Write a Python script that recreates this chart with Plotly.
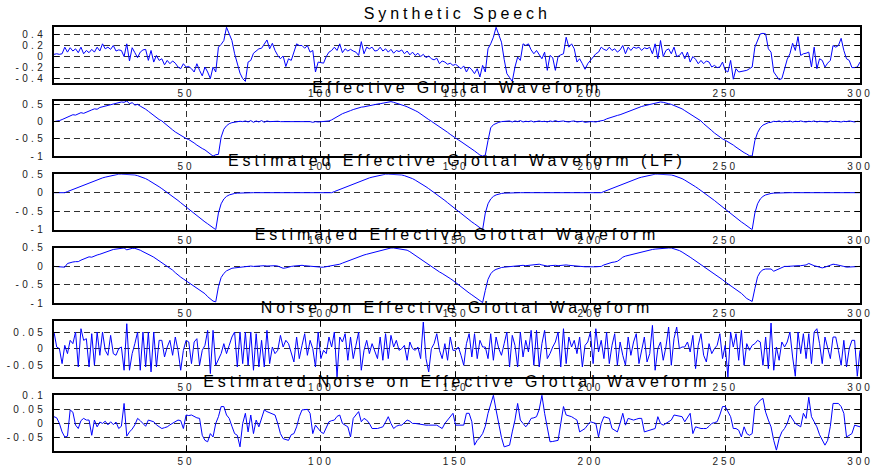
import plotly.graph_objects as go

# ---------------- data ----------------
sample_index = list(range(1, 301))

speech = [
    0.04, 0.05, 0.04, 0.05, 0.17, 0.08, 0.16, 0.10, 0.14, 0.07,
    0.17, 0.05, 0.11, 0.07, 0.13, 0.08, 0.17, 0.10, 0.23, 0.14,
    0.17, 0.13, 0.20, 0.10, 0.12, 0.11, 0.00, 0.23, -0.08, 0.16,
    0.07, -0.02, 0.08, 0.12, 0.13, -0.07, 0.11, -0.10, 0.02, -0.07,
    -0.04, -0.15, -0.07, -0.13, -0.08, -0.12, -0.19, -0.22, -0.13, -0.19,
    -0.18, -0.22, -0.28, -0.13, -0.25, -0.35, -0.19, -0.28, -0.40, -0.19,
    -0.28, 0.17, 0.22, 0.29, 0.53, 0.40, 0.29, 0.05, -0.15, -0.30,
    -0.40, -0.45, -0.10, -0.07, 0.06, 0.10, 0.14, 0.15, 0.23, 0.30,
    0.14, 0.24, 0.11, 0.02, -0.04, 0.01, -0.18, -0.04, -0.07, 0.08,
    0.23, 0.20, 0.20, 0.15, 0.20, 0.08, 0.11, -0.28, -0.10, -0.11,
    -0.12, 0.00, 0.08, 0.11, 0.17, 0.11, 0.23, 0.07, 0.14, 0.10,
    0.13, 0.10, 0.08, 0.02, 0.27, 0.05, 0.17, 0.14, 0.17, 0.10,
    0.11, 0.17, 0.10, 0.14, 0.08, 0.13, 0.06, 0.11, 0.09, 0.12,
    0.05, 0.10, 0.03, 0.08, 0.02, 0.06, 0.00, 0.04, -0.02, 0.01,
    -0.04, -0.06, -0.03, -0.13, -0.08, -0.10, -0.14, -0.12, -0.16, -0.14,
    -0.18, -0.22, -0.17, -0.28, -0.19, -0.24, -0.31, -0.22, -0.37, -0.16,
    -0.28, 0.14, 0.23, 0.35, 0.53, 0.41, 0.26, -0.05, -0.31, -0.38,
    -0.45, -0.19, -0.01, -0.07, 0.23, 0.20, 0.23, 0.12, 0.05, 0.11,
    0.04, -0.04, 0.08, -0.25, 0.02, -0.02, -0.25, 0.00, 0.03, 0.05,
    0.35, 0.17, 0.23, 0.14, -0.10, -0.04, -0.13, -0.23, -0.13, -0.07,
    -0.02, 0.05, 0.08, 0.17, 0.13, 0.11, 0.17, 0.11, 0.14, 0.08,
    0.12, 0.20, 0.05, 0.17, 0.11, 0.17, 0.15, 0.17, 0.11, 0.16,
    0.14, 0.17, 0.05, 0.23, -0.04, 0.29, 0.00, 0.11, 0.14, 0.05,
    0.17, 0.00, 0.02, 0.08, -0.04, 0.08, -0.10, 0.00, -0.05, -0.13,
    -0.07, -0.13, -0.08, -0.10, -0.19, -0.16, -0.20, -0.19, -0.10, -0.25,
    -0.28, -0.07, -0.41, -0.22, -0.28, -0.27, -0.26, -0.25, -0.22, -0.19,
    0.17, 0.30, 0.41, 0.42, 0.41, 0.14, 0.08, -0.28, -0.35, -0.42,
    -0.40, -0.20, -0.05, 0.05, 0.24, 0.11, 0.36, 0.02, 0.05, 0.06,
    0.08, -0.19, 0.17, -0.22, -0.04, -0.07, -0.19, -0.12, -0.07, 0.20,
    0.17, 0.20, 0.33, 0.11, -0.04, -0.07, -0.20, -0.20, -0.19, -0.10,
]

eff_glottal = [
    0.00, 0.01, 0.03, 0.06, 0.10, 0.14, 0.17, 0.20, 0.19, 0.23,
    0.26, 0.24, 0.28, 0.32, 0.34, 0.37, 0.36, 0.41, 0.43, 0.45,
    0.48, 0.50, 0.52, 0.53, 0.55, 0.57, 0.56, 0.60, 0.52, 0.55,
    0.48, 0.50, 0.45, 0.41, 0.36, 0.30, 0.24, 0.17, 0.12, 0.06,
    0.02, -0.05, -0.12, -0.18, -0.24, -0.30, -0.35, -0.40, -0.44, -0.49,
    -0.52, -0.56, -0.62, -0.68, -0.74, -0.78, -0.82, -0.88, -0.94, -1.00,
    -0.96, -0.95, -0.45, -0.22, -0.12, -0.06, -0.03, -0.01, 0.00, 0.01,
    0.00, 0.02, -0.01, 0.03, -0.02, 0.02, -0.01, 0.03, -0.02, 0.02,
    0.00, 0.01, 0.00, 0.01, 0.00, 0.00, 0.01, -0.01, 0.00, 0.00,
    0.01, 0.00, 0.00, 0.00, -0.01, 0.00, -0.02, 0.00, -0.01, 0.00,
    -0.01, 0.00, 0.02, 0.05, 0.10, 0.15, 0.20, 0.23, 0.26, 0.30,
    0.32, 0.35, 0.38, 0.40, 0.42, 0.43, 0.45, 0.47, 0.48, 0.50,
    0.51, 0.52, 0.54, 0.55, 0.57, 0.58, 0.56, 0.54, 0.50, 0.48,
    0.46, 0.43, 0.40, 0.36, 0.32, 0.28, 0.22, 0.16, 0.10, 0.06,
    0.01, -0.04, -0.10, -0.15, -0.21, -0.26, -0.31, -0.37, -0.43, -0.48,
    -0.53, -0.58, -0.63, -0.68, -0.74, -0.80, -0.85, -0.91, -0.97, -1.00,
    -0.97, -0.55, -0.18, -0.09, -0.05, -0.02, 0.00, 0.01, 0.00, 0.02,
    -0.01, 0.02, 0.00, 0.03, -0.01, 0.01, 0.00, 0.02, -0.01, 0.00,
    0.02, 0.00, 0.01, -0.01, 0.02, 0.00, 0.03, 0.00, 0.01, 0.02,
    0.00, -0.01, 0.01, 0.02, -0.01, 0.00, 0.01, -0.02, 0.00, 0.00,
    0.00, -0.01, 0.01, 0.02, 0.04, 0.08, 0.11, 0.14, 0.16, 0.18,
    0.20, 0.23, 0.26, 0.29, 0.32, 0.36, 0.40, 0.42, 0.44, 0.46,
    0.48, 0.50, 0.52, 0.54, 0.55, 0.57, 0.56, 0.55, 0.52, 0.50,
    0.47, 0.44, 0.41, 0.37, 0.32, 0.27, 0.22, 0.17, 0.13, 0.08,
    0.02, -0.06, -0.12, -0.19, -0.26, -0.33, -0.39, -0.45, -0.50, -0.54,
    -0.58, -0.63, -0.68, -0.74, -0.80, -0.85, -0.90, -0.94, -0.99, -1.00,
    -0.55, -0.32, -0.18, -0.10, -0.06, -0.03, -0.02, 0.01, 0.00, 0.02,
    -0.01, 0.01, 0.00, 0.02, -0.01, 0.01, 0.00, 0.02, 0.00, -0.01,
    0.01, 0.00, 0.02, -0.01, 0.01, 0.00, 0.01, -0.01, 0.02, 0.00,
    0.01, 0.00, -0.01, 0.01, 0.00, 0.02, 0.00, -0.01, 0.01, 0.00,
]

lf_glottal = [
    0, 0, 0, 0, 0, 0.03, 0.06, 0.09, 0.12, 0.15,
    0.18, 0.20, 0.23, 0.26, 0.29, 0.32, 0.35, 0.37, 0.40, 0.42,
    0.44, 0.46, 0.48, 0.49, 0.50, 0.50, 0.50, 0.50, 0.50, 0.49,
    0.48, 0.46, 0.44, 0.41, 0.38, 0.34, 0.30, 0.26, 0.21, 0.16,
    0.11, 0.06, 0.01, -0.04, -0.10, -0.15, -0.21, -0.27, -0.33, -0.39,
    -0.45, -0.51, -0.57, -0.63, -0.68, -0.74, -0.79, -0.84, -0.89, -0.94,
    -1.00, -0.55, -0.30, -0.17, -0.10, -0.06, -0.035, -0.02, -0.012, -0.007,
    -0.004, -0.002, 0, 0, 0, 0, 0, 0, 0, 0,
    0, 0, 0, 0, 0, 0, 0, 0, 0, 0,
    0, 0, 0, 0, 0, 0, 0, 0, 0, 0,
    0, 0, 0, 0, 0.03, 0.06, 0.09, 0.12, 0.15, 0.18,
    0.20, 0.23, 0.26, 0.29, 0.32, 0.35, 0.37, 0.40, 0.42, 0.44,
    0.46, 0.48, 0.49, 0.50, 0.50, 0.50, 0.50, 0.50, 0.49, 0.48,
    0.46, 0.44, 0.41, 0.38, 0.34, 0.30, 0.26, 0.21, 0.16, 0.11,
    0.06, 0.01, -0.04, -0.10, -0.15, -0.21, -0.27, -0.33, -0.39, -0.45,
    -0.51, -0.57, -0.63, -0.68, -0.74, -0.79, -0.84, -0.89, -0.94, -1.00,
    -0.55, -0.30, -0.17, -0.10, -0.06, -0.035, -0.02, -0.012, -0.007, -0.004,
    -0.002, 0, 0, 0, 0, 0, 0, 0, 0, 0,
    0, 0, 0, 0, 0, 0, 0, 0, 0, 0,
    0, 0, 0, 0, 0, 0, 0, 0, 0, 0,
    0, 0, 0, 0, 0.03, 0.06, 0.09, 0.12, 0.15, 0.18,
    0.20, 0.23, 0.26, 0.29, 0.32, 0.35, 0.37, 0.40, 0.42, 0.44,
    0.46, 0.48, 0.49, 0.50, 0.50, 0.50, 0.50, 0.50, 0.49, 0.48,
    0.46, 0.44, 0.41, 0.38, 0.34, 0.30, 0.26, 0.21, 0.16, 0.11,
    0.06, 0.01, -0.04, -0.10, -0.15, -0.21, -0.27, -0.33, -0.39, -0.45,
    -0.51, -0.57, -0.63, -0.68, -0.74, -0.79, -0.84, -0.89, -0.94, -1.00,
    -0.55, -0.30, -0.17, -0.10, -0.06, -0.035, -0.02, -0.012, -0.007, -0.004,
    -0.002, 0, 0, 0, 0, 0, 0, 0, 0, 0,
    0, 0, 0, 0, 0, 0, 0, 0, 0, 0,
    0, 0, 0, 0, 0, 0, 0, 0, 0, 0,
]

est_glottal = [
    0.00, -0.01, -0.02, -0.03, -0.02, 0.08, 0.11, 0.12, 0.13, 0.13,
    0.17, 0.20, 0.23, 0.26, 0.25, 0.29, 0.31, 0.33, 0.36, 0.38,
    0.41, 0.43, 0.46, 0.47, 0.48, 0.49, 0.50, 0.45, 0.48, 0.49,
    0.49, 0.47, 0.44, 0.40, 0.37, 0.33, 0.29, 0.25, 0.20, 0.15,
    0.10, 0.06, 0.01, -0.03, -0.10, -0.17, -0.24, -0.29, -0.34, -0.39,
    -0.44, -0.48, -0.53, -0.57, -0.62, -0.68, -0.74, -0.82, -0.88, -0.94,
    -0.96, -0.55, -0.30, -0.19, -0.12, -0.08, -0.05, -0.04, -0.03, -0.02,
    -0.01, 0.00, 0.02, 0.01, 0.00, 0.01, 0.02, 0.03, 0.02, 0.01,
    0.02, 0.03, 0.02, 0.01, -0.02, -0.05, -0.04, -0.01, 0.00, 0.01,
    0.02, 0.03, 0.03, 0.02, 0.01, 0.00, -0.01, -0.02, -0.02, -0.02,
    -0.02, -0.01, 0.00, 0.01, 0.02, 0.04, 0.06, 0.09, 0.12, 0.15,
    0.18, 0.20, 0.22, 0.25, 0.28, 0.31, 0.33, 0.35, 0.38, 0.40,
    0.42, 0.44, 0.46, 0.48, 0.50, 0.50, 0.50, 0.49, 0.49, 0.48,
    0.47, 0.44, 0.40, 0.35, 0.30, 0.25, 0.20, 0.15, 0.09, 0.03,
    -0.02, -0.07, -0.11, -0.15, -0.19, -0.23, -0.28, -0.33, -0.38, -0.44,
    -0.50, -0.56, -0.62, -0.67, -0.72, -0.77, -0.82, -0.87, -0.93, -0.98,
    -0.65, -0.35, -0.20, -0.12, -0.08, -0.05, -0.03, -0.02, -0.01, 0.00,
    0.01, 0.02, 0.03, 0.04, 0.03, 0.02, 0.03, 0.02, 0.03, 0.05,
    0.06, 0.04, 0.02, 0.01, 0.02, 0.03, 0.03, 0.02, 0.03, 0.05,
    0.04, 0.03, 0.02, 0.01, 0.00, 0.00, 0.00, -0.01, -0.01, 0.00,
    -0.01, -0.01, 0.00, 0.00, 0.04, 0.07, 0.10, 0.11, 0.12, 0.14,
    0.19, 0.25, 0.28, 0.30, 0.32, 0.34, 0.36, 0.38, 0.40, 0.41,
    0.43, 0.45, 0.46, 0.47, 0.48, 0.49, 0.50, 0.50, 0.50, 0.50,
    0.48, 0.46, 0.43, 0.39, 0.35, 0.30, 0.25, 0.20, 0.15, 0.11,
    0.05, -0.01, -0.06, -0.11, -0.16, -0.21, -0.26, -0.31, -0.36, -0.42,
    -0.47, -0.53, -0.58, -0.63, -0.68, -0.73, -0.80, -0.87, -0.91, -0.95,
    -0.60, -0.28, -0.15, -0.09, -0.07, -0.06, -0.07, -0.13, -0.10, -0.05,
    -0.02, 0.00, 0.00, 0.01, 0.01, 0.02, 0.02, 0.02, 0.03, 0.04,
    0.08, 0.04, 0.02, 0.00, -0.03, -0.04, -0.02, 0.00, 0.03, 0.06,
    0.05, 0.04, 0.03, 0.00, -0.02, -0.02, 0.00, 0.00, 0.00, 0.00,
]

noise = [
    0.050, 0.005, 0.000, -0.045, 0.010, -0.015, 0.025, 0.015, 0.050, -0.055,
    0.060, 0.025, 0.030, -0.055, 0.045, -0.050, 0.050, -0.020, 0.050, -0.005,
    -0.020, 0.040, -0.015, -0.020, 0.000, 0.005, -0.065, 0.075, -0.065, -0.015,
    0.015, 0.050, -0.065, 0.050, -0.055, 0.050, -0.070, 0.050, -0.055, 0.025,
    0.025, -0.025, 0.005, 0.025, -0.020, 0.035, -0.005, -0.065, -0.005, 0.025,
    0.020, -0.045, 0.020, 0.030, -0.050, -0.005, 0.010, 0.055, -0.075, 0.055,
    -0.050, -0.030, -0.015, 0.015, -0.015, 0.010, 0.035, 0.050, -0.055, 0.050,
    -0.045, 0.050, -0.050, 0.050, -0.065, 0.045, -0.055, 0.025, -0.055, 0.055,
    -0.045, 0.005, -0.015, -0.005, 0.040, 0.005, 0.025, 0.015, -0.010, -0.040,
    0.035, -0.030, 0.010, 0.045, -0.020, 0.025, 0.000, -0.055, 0.050, -0.030,
    -0.005, -0.015, 0.035, 0.005, 0.050, -0.085, 0.035, 0.020, 0.045, -0.035,
    0.035, -0.030, 0.010, 0.050, -0.065, -0.005, 0.025, -0.015, 0.015, -0.010,
    -0.030, 0.035, -0.035, 0.045, -0.030, 0.040, 0.005, 0.025, -0.005, 0.000,
    0.010, -0.035, 0.020, 0.000, -0.005, 0.005, -0.030, 0.080, -0.030, -0.070,
    0.000, 0.015, 0.045, -0.005, -0.030, 0.015, -0.035, 0.035, -0.005, -0.005,
    0.005, -0.020, -0.050, 0.015, 0.045, -0.025, 0.045, -0.030, 0.025, 0.005,
    0.005, -0.030, 0.045, -0.035, 0.035, 0.000, -0.020, 0.015, 0.050, -0.055,
    0.040, 0.010, -0.055, 0.050, -0.025, 0.025, -0.010, 0.055, -0.050, 0.055,
    -0.055, 0.015, 0.055, -0.030, -0.015, 0.005, 0.020, 0.050, -0.055, 0.060,
    -0.045, 0.035, 0.005, 0.025, -0.015, 0.035, -0.055, 0.010, 0.020, 0.050,
    -0.045, 0.060, -0.010, 0.025, -0.030, 0.050, -0.045, 0.010, 0.045, -0.050,
    0.020, -0.020, -0.050, 0.035, -0.020, 0.020, 0.045, -0.045, 0.000, 0.035,
    -0.040, -0.015, 0.070, -0.065, 0.000, 0.020, -0.035, 0.005, 0.065, -0.050,
    0.030, 0.065, 0.000, 0.005, 0.005, 0.020, -0.010, 0.040, -0.060, 0.010,
    0.045, -0.020, -0.040, 0.015, -0.015, 0.000, 0.010, 0.045, -0.030, 0.010,
    -0.085, 0.050, 0.005, 0.045, -0.035, 0.055, -0.050, 0.015, -0.005, 0.010,
    0.015, 0.025, 0.020, -0.050, 0.035, -0.060, 0.077, -0.065, 0.005, -0.035,
    0.020, 0.005, 0.020, 0.050, -0.025, -0.083, 0.050, -0.015, 0.045, -0.030,
    0.045, -0.045, 0.050, 0.060, 0.015, -0.045, 0.035, 0.000, -0.030, 0.035,
    0.035, -0.005, -0.050, 0.025, -0.055, 0.000, 0.025, 0.025, -0.083, -0.005,
]

est_noise = [
    0.024, 0.020, 0.000, -0.030, -0.048, -0.045, 0.048, 0.040, -0.006, -0.018,
    0.010, 0.018, 0.012, 0.012, -0.042, 0.012, -0.012, 0.005, 0.000, 0.008,
    -0.005, 0.006, -0.004, 0.005, -0.018, -0.010, 0.071, -0.045, -0.030, -0.020,
    -0.005, 0.018, 0.010, 0.000, -0.010, 0.012, 0.008, 0.006, -0.005, -0.012,
    -0.018, -0.015, -0.012, -0.005, 0.000, 0.006, 0.012, 0.010, -0.018, 0.030,
    0.028, 0.030, 0.024, 0.020, 0.018, -0.042, -0.060, -0.065, -0.036, -0.048,
    0.000, 0.024, 0.060, 0.060, 0.030, 0.018, -0.010, -0.036, -0.042, -0.083,
    0.000, 0.036, -0.030, 0.030, -0.036, 0.012, -0.012, 0.020, 0.048, 0.042,
    0.038, 0.036, 0.030, 0.000, -0.036, -0.054, -0.056, -0.060, -0.040, -0.036,
    -0.012, 0.024, 0.048, 0.050, 0.050, 0.036, -0.036, -0.006, -0.020, -0.030,
    -0.036, -0.015, 0.006, 0.010, 0.012, 0.025, 0.030, 0.000, -0.005, -0.012,
    -0.048, 0.018, 0.030, 0.042, 0.006, 0.018, 0.012, 0.000, -0.018, -0.018,
    -0.018, -0.015, -0.012, 0.005, 0.024, 0.000, -0.018, -0.010, -0.006, -0.006,
    0.005, 0.012, 0.008, 0.000, 0.000, -0.002, -0.002, -0.004, -0.006, -0.006,
    -0.006, -0.006, -0.006, -0.012, -0.018, 0.000, 0.012, 0.025, 0.036, -0.006,
    -0.006, -0.006, -0.006, 0.036, 0.036, 0.006, -0.077, -0.060, -0.050, -0.036,
    -0.010, 0.036, 0.070, 0.100, 0.048, -0.006, -0.050, -0.083, -0.080, -0.077,
    -0.030, 0.012, 0.071, 0.012, 0.000, -0.012, 0.000, 0.018, 0.020, 0.024,
    0.050, 0.100, 0.036, -0.020, -0.065, -0.064, -0.062, -0.060, 0.000, 0.060,
    0.030, 0.028, 0.024, 0.018, 0.012, -0.030, -0.025, -0.018, -0.005, 0.006,
    0.003, 0.000, -0.048, 0.000, 0.024, 0.020, 0.018, -0.018, -0.025, -0.030,
    0.000, 0.036, -0.006, 0.018, 0.015, 0.012, 0.015, 0.018, 0.018, -0.030,
    -0.027, -0.024, -0.020, -0.018, 0.024, 0.000, -0.006, 0.000, 0.006, 0.012,
    0.030, 0.028, 0.026, 0.024, 0.006, 0.020, 0.036, -0.036, -0.012, -0.015,
    -0.018, -0.018, -0.018, -0.010, 0.000, 0.003, 0.006, 0.030, 0.060, 0.060,
    0.040, 0.024, -0.018, -0.018, -0.024, -0.048, -0.012, -0.036, -0.042, -0.036,
    0.060, 0.070, 0.083, 0.089, 0.040, 0.012, -0.012, -0.060, -0.095, -0.054,
    -0.030, -0.018, 0.000, 0.030, 0.015, 0.000, -0.006, -0.012, 0.036, 0.018,
    0.093, 0.024, 0.006, -0.012, -0.040, -0.060, -0.077, -0.060, -0.010, 0.071,
    0.071, 0.071, 0.060, 0.036, -0.048, -0.042, -0.036, -0.006, -0.010, -0.012,
]

titles = [
    "Synthetic Speech",
    "Effective Glottal Waveform",
    "Estimated Effective Glottal Waveform (LF)",
    "Estimated Effective Glottal Waveform",
    "Noise on Effective Glottal Waveform",
    "Estimated Noise on Effective Glottal Waveform",
]

x_tick_values = [50, 100, 150, 200, 250, 300]
x_tick_labels = ["50", "100", "150", "200", "250", "300"]

y_tick_values = [
    [-0.4, -0.2, 0, 0.2, 0.4],
    [-1, -0.5, 0, 0.5],
    [-1, -0.5, 0, 0.5],
    [-1, -0.5, 0, 0.5],
    [-0.05, 0, 0.05],
    [-0.05, 0, 0.05, 0.1],
]
y_tick_labels = [
    ["-0.4", "-0.2", "0", "0.2", "0.4"],
    ["-1", "-0.5", "0", "0.5"],
    ["-1", "-0.5", "0", "0.5"],
    ["-1", "-0.5", "0", "0.5"],
    ["-0.05", "0", "0.05"],
    ["-0.05", "0", "0.05", "0.1"],
]
y_ranges = [
    [-0.47, 0.535],
    [-1.0, 0.61],
    [-1.0, 0.5],
    [-1.0, 0.505],
    [-0.085, 0.082],
    [-0.096, 0.101],
]

series = [speech, eff_glottal, lf_glottal, est_glottal, noise, est_noise]

# ---------------- layout ----------------
W, H = 871, 469
panel_tops = [27, 100.6, 174.2, 247.8, 321.4, 395]
panel_h = 55.5
FONT = "Liberation Sans, Arial, Helvetica, sans-serif"

fig = go.Figure()
layout = dict(
    width=W, height=H,
    margin=dict(l=54, r=11, t=0, b=0, pad=0),
    paper_bgcolor="white", plot_bgcolor="white",
    showlegend=False,
    font=dict(family=FONT, size=10, color="#222222"),
    template="none",
)

common_axis = dict(
    showline=True, linecolor="black", linewidth=2, mirror="ticks",
    ticks="inside", ticklen=5, tickwidth=1, tickcolor="black",
    showgrid=True, gridcolor="#303030", gridwidth=1, griddash="6px,4px",
    zeroline=False, fixedrange=True,
    tickfont=dict(family=FONT, size=10, color="#222222"),
)

annotations = []
for i, yv in enumerate(series):
    k = "" if i == 0 else str(i + 1)
    top = panel_tops[i]
    bot = top + panel_h
    dom = [1 - bot / H, 1 - top / H]
    fig.add_trace(go.Scatter(
        x=sample_index[:len(yv)], y=yv, mode="lines",
        line=dict(color="#0000ff", width=1),
        xaxis="x" + k, yaxis="y" + k, hoverinfo="skip",
    ))
    layout["xaxis" + k] = dict(
        common_axis, domain=[0, 1], range=[1, 300], anchor="y" + k,
        tickmode="array", tickvals=x_tick_values, ticktext=x_tick_labels,
    )
    layout["yaxis" + k] = dict(
        common_axis, domain=dom, range=y_ranges[i], anchor="x" + k,
        tickmode="array", tickvals=y_tick_values[i], ticktext=y_tick_labels[i],
        ticklabelstandoff=4,
    )
    annotations.append(dict(
        text=titles[i], xref="paper", yref="paper", x=0.5, y=dom[1],
        xanchor="center", yanchor="bottom", yshift=3, showarrow=False,
        font=dict(family=FONT, size=16, color="black"),
    ))

layout["annotations"] = annotations
fig.update_layout(**layout)

post = """
var gd = document.getElementById('{plot_id}');
function spaceText(){
  gd.querySelectorAll('.annotation-text').forEach(function(t){ t.style.letterSpacing = '3.9px'; });
  gd.querySelectorAll('.xaxislayer-above text').forEach(function(t){ t.style.letterSpacing = '3px'; });
  gd.querySelectorAll('.yaxislayer-above text').forEach(function(t){ t.style.letterSpacing = '3.3px'; });
}
spaceText();
gd.on('plotly_afterplot', spaceText);
"""

fig.write_html("out.html", post_script=post, config={"displayModeBar": False, "staticPlot": True})
